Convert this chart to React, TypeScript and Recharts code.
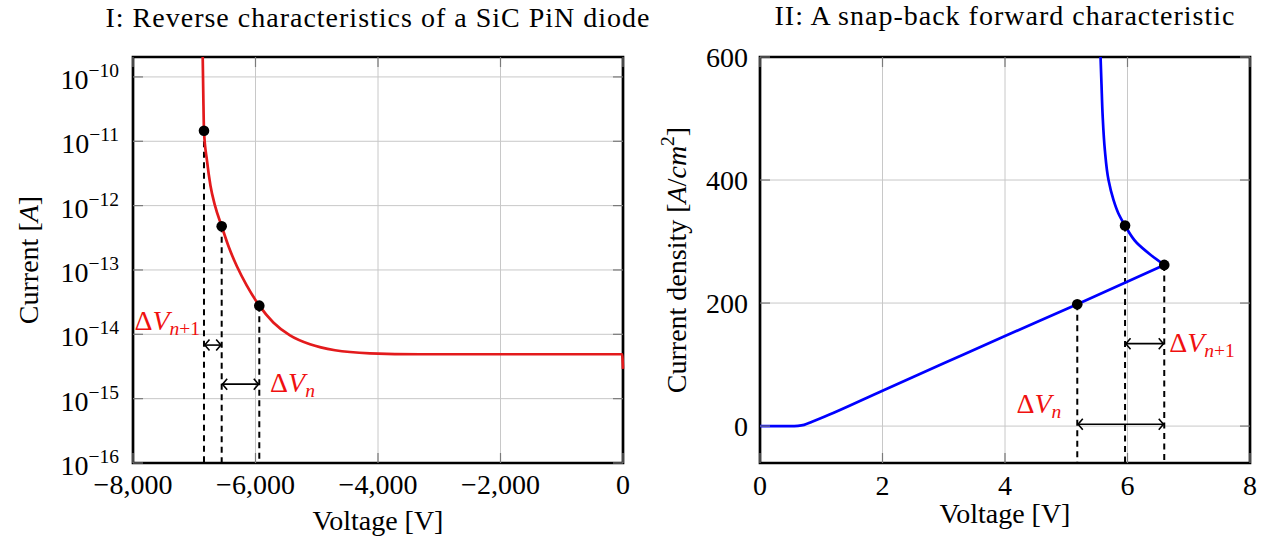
import React from "react"
import {
  ComposedChart,
  Line,
  Scatter,
  XAxis,
  YAxis,
  CartesianGrid,
  ReferenceLine,
  ReferenceArea,
  ReferenceDot,
  Label,
} from "recharts"

const FONT = "'Liberation Serif', 'DejaVu Serif', serif"
const FS = 28
const SUB = 19.5
const RED = "#e31a1c"
const TXT_RED = "#f01010"
const BLUE = "#0000ff"
const GRID = "#c8c8c8"
const TICK = "#7a7a7a"

// ---- I: reverse characteristic (log current) ----
const revV = [-6862, -6852, -6841, -6792, -6735, -6661, -6552, -6433, -6302, -6144, -5938, -5709, -5437, -5110, -4702, -4131, -3314, -15, 0]
const revI = [2.04e-10, 5.07e-11, 1.46e-11, 4.99e-12, 2.04e-12, 1.0e-12, 4.78e-13, 2.23e-13, 1.13e-13, 5.75e-14, 2.79e-14, 1.53e-14, 9.64e-15, 7.0e-15, 5.65e-15, 5.07e-15, 4.9e-15, 4.9e-15, 2.9e-15]
const revDotV = [-6841, -6552, -5938]
const revDotI = [1.46e-11, 4.78e-13, 2.79e-14]
const revXTicks = [-8000, -6000, -4000, -2000, 0]
const revYTicks = [1e-16, 1e-15, 1e-14, 1e-13, 1e-12, 1e-11, 1e-10]
const revYDomain = [1e-16, 2.04e-10]
const revMinorTicks: number[] = []
revYTicks.forEach((d) => {
  for (let m = 2; m <= 9; m++) if (d * m < revYDomain[1]) revMinorTicks.push(d * m)
})

// ---- II: snap-back forward characteristic ----
const fwdLowV = [0, 0.5, 0.62, 0.72, 0.85, 1, 2, 3, 4, 5.18, 6.6]
const fwdLowJ = [0, 0, 0.5, 2, 7, 13, 57.5, 102, 146.5, 198, 262]
const fwdUpV = [5.56, 5.575, 5.595, 5.63, 5.69, 5.77, 5.85, 5.96, 6.15, 6.37, 6.6]
const fwdUpJ = [600, 557, 503, 449, 400, 368, 346, 326, 298, 279, 262]
const fwdDotV = [5.18, 5.96, 6.6]
const fwdDotJ = [198, 326, 262]
const fwdXTicks = [0, 2, 4, 6, 8]
const fwdYTicks = [0, 200, 400, 600]
const fwdYDomain = [-60, 600]

const revCurve = revV.map((v, k) => ({ v, i: revI[k] }))
const revDots = revDotV.map((v, k) => ({ v, i: revDotI[k] }))
const fwdLow = fwdLowV.map((v, k) => ({ v, j: fwdLowJ[k] }))
const fwdUp = fwdUpV.map((v, k) => ({ v, j: fwdUpJ[k] }))
const fwdDots = fwdDotV.map((v, k) => ({ v, j: fwdDotJ[k] }))

const L = { left: 133, right: 623, top: 57, bottom: 463 }
const R = { left: 120, right: 610, top: 57, bottom: 463 }

const fmtThousands = (n: number) =>
  n === 0 ? "0" : (n < 0 ? "\u2212" : "") + Math.abs(n).toLocaleString("en-US")

const makeXTick = (box: typeof L, fmt: (n: number) => string, dy: number) => (p: any) => (
  <g>
    <line x1={p.x} x2={p.x} y1={box.bottom} y2={box.bottom - 10} stroke={TICK} strokeWidth={1.2} />
    <line x1={p.x} x2={p.x} y1={box.top} y2={box.top + 10} stroke={TICK} strokeWidth={1.2} />
    <text x={p.x} y={box.bottom + dy} textAnchor="middle" fontFamily={FONT} fontSize={FS} fill="#000">
      {fmt(p.payload.value)}
    </text>
  </g>
)

const logYTick = (p: any) => {
  const e = Math.round(Math.log10(p.payload.value))
  return (
    <g>
      <line x1={L.left} x2={L.left + 10} y1={p.y} y2={p.y} stroke={TICK} strokeWidth={1.2} />
      <line x1={L.right - 10} x2={L.right} y1={p.y} y2={p.y} stroke={TICK} strokeWidth={1.2} />
      <text x={L.left - 14} y={p.y + 12} textAnchor="end" fontFamily={FONT} fontSize={FS} fill="#000">
        10
        <tspan fontSize={SUB} dy={-12}>{"\u2212" + Math.abs(e)}</tspan>
      </text>
    </g>
  )
}

const minorYTick = (p: any) => (
  <g>
    <line x1={L.left} x2={L.left + 7} y1={p.y} y2={p.y} stroke={TICK} strokeWidth={1} />
    <line x1={L.right - 7} x2={L.right} y1={p.y} y2={p.y} stroke={TICK} strokeWidth={1} />
  </g>
)

const linYTick = (p: any) => (
  <g>
    <line x1={R.left} x2={R.left + 10} y1={p.y} y2={p.y} stroke={TICK} strokeWidth={1.2} />
    <line x1={R.right - 10} x2={R.right} y1={p.y} y2={p.y} stroke={TICK} strokeWidth={1.2} />
    <text x={R.left - 12} y={p.y + 9.5} textAnchor="end" fontFamily={FONT} fontSize={FS} fill="#000">
      {p.payload.value}
    </text>
  </g>
)

const arrowShape = (p: any) => {
  const { x1, y1, x2, y2 } = p
  const h = 5.5
  return (
    <g>
      <line x1={x1} y1={y1} x2={x2} y2={y2} stroke="#000" strokeWidth={1.6} />
      <path
        d={`M${x1 + h},${y1 - h} L${x1 + 0.8},${y1} L${x1 + h},${y1 + h} M${x2 - h},${y2 - h} L${x2 - 0.8},${y2} L${x2 - h},${y2 + h}`}
        fill="none"
        stroke="#000"
        strokeWidth={1.6}
      />
    </g>
  )
}

const deltaLabel = (plus: boolean, anchor: "start" | "end") => (p: any) => (
  <text x={p.cx} y={p.cy} textAnchor={anchor} fill={TXT_RED} fontFamily={FONT} fontSize={FS}>
    {"\u0394"}
    <tspan fontStyle="italic">V</tspan>
    <tspan fontSize={SUB} dy={5} fontStyle="italic">n</tspan>
    {plus ? <tspan fontSize={SUB}>+1</tspan> : null}
  </text>
)

const dot = (p: any) => <circle cx={p.cx} cy={p.cy} r={5.3} fill="#000" />

const dash = { stroke: "#000", strokeWidth: 2, strokeDasharray: "6 4.5" }

function ReverseChart() {
  return (
    <ComposedChart width={640} height={543} margin={{ top: 57, right: 17, bottom: 0, left: 0 }}>
      <CartesianGrid stroke={GRID} strokeWidth={1} />
      <XAxis
        type="number"
        dataKey="v"
        domain={[-8000, 0]}
        ticks={revXTicks}
        interval={0}
        height={80}
        axisLine={false}
        tickLine={false}
        tickSize={0}
        tick={makeXTick(L, fmtThousands, 31)}
      >
        <Label
          content={() => (
            <text x={(L.left + L.right) / 2} y={530} textAnchor="middle" fontFamily={FONT} fontSize={FS}>
              Voltage [V]
            </text>
          )}
        />
      </XAxis>
      <YAxis
        type="number"
        scale="log"
        domain={revYDomain}
        allowDataOverflow
        ticks={revYTicks}
        interval={0}
        width={133}
        axisLine={false}
        tickLine={false}
        tickSize={0}
        tick={logYTick}
      >
        <Label
          content={(p: any) => {
            const cx = p.viewBox.x + 38
            const cy = p.viewBox.y + p.viewBox.height / 2
            return (
              <text x={cx} y={cy} transform={`rotate(-90 ${cx} ${cy})`} textAnchor="middle" fontFamily={FONT} fontSize={FS}>
                Current [<tspan fontStyle="italic">A</tspan>]
              </text>
            )
          }}
        />
      </YAxis>
      <YAxis
        yAxisId="minor"
        orientation="right"
        type="number"
        scale="log"
        domain={revYDomain}
        allowDataOverflow
        ticks={revMinorTicks}
        interval={0}
        width={0}
        axisLine={false}
        tickLine={false}
        tickSize={0}
        tick={minorYTick}
      />
      {revDots.map((d) => (
        <ReferenceLine key={d.v} segment={[{ x: d.v, y: d.i }, { x: d.v, y: revYTicks[0] }]} {...dash} />
      ))}
      <ReferenceLine segment={[{ x: revDotV[0], y: 6.8e-15 }, { x: revDotV[1], y: 6.8e-15 }]} shape={arrowShape} />
      <ReferenceLine segment={[{ x: revDotV[1], y: 1.68e-15 }, { x: revDotV[2], y: 1.68e-15 }]} shape={arrowShape} />
      <Line
        data={revCurve}
        dataKey="i"
        type="monotone"
        stroke={RED}
        strokeWidth={2.7}
        dot={false}
        isAnimationActive={false}
      />
      <Scatter data={revDots} dataKey="i" shape={dot} isAnimationActive={false} />
      <ReferenceDot x={-6906} y={1.15e-14} r={1} ifOverflow="visible" shape={deltaLabel(true, "end")} />
      <ReferenceDot x={-5763} y={1.26e-15} r={1} ifOverflow="visible" shape={deltaLabel(false, "start")} />
      <ReferenceArea
        x1={-8000}
        x2={0}
        y1={revYDomain[0]}
        y2={revYDomain[1]}
        ifOverflow="visible"
        fill="none"
        stroke="#000"
        strokeWidth={2.7}
      />
    </ComposedChart>
  )
}

function ForwardChart() {
  return (
    <ComposedChart width={632} height={543} margin={{ top: 57, right: 22, bottom: 0, left: 0 }}>
      <CartesianGrid stroke={GRID} strokeWidth={1} />
      <XAxis
        type="number"
        dataKey="v"
        domain={[0, 8]}
        ticks={fwdXTicks}
        interval={0}
        height={80}
        axisLine={false}
        tickLine={false}
        tickSize={0}
        tick={makeXTick(R, (n) => String(n), 32)}
      >
        <Label
          content={() => (
            <text x={(R.left + R.right) / 2} y={523} textAnchor="middle" fontFamily={FONT} fontSize={FS}>
              Voltage [V]
            </text>
          )}
        />
      </XAxis>
      <YAxis
        type="number"
        domain={fwdYDomain}
        allowDataOverflow
        ticks={fwdYTicks}
        interval={0}
        width={120}
        axisLine={false}
        tickLine={false}
        tickSize={0}
        tick={linYTick}
      >
        <Label
          content={(p: any) => {
            const cx = p.viewBox.x + 46
            const cy = p.viewBox.y + p.viewBox.height / 2
            return (
              <text x={cx} y={cy} transform={`rotate(-90 ${cx} ${cy})`} textAnchor="middle" fontFamily={FONT} fontSize={FS}>
                Current density [<tspan fontStyle="italic">A</tspan>/<tspan fontStyle="italic">cm</tspan>
                <tspan fontSize={SUB} dy={-12}>2</tspan>
                <tspan dy={12}>]</tspan>
              </text>
            )
          }}
        />
      </YAxis>
      {fwdDots.map((d) => (
        <ReferenceLine key={d.v} segment={[{ x: d.v, y: d.j }, { x: d.v, y: fwdYDomain[0] }]} {...dash} />
      ))}
      <ReferenceLine segment={[{ x: fwdDotV[1], y: 134 }, { x: fwdDotV[2], y: 134 }]} shape={arrowShape} />
      <ReferenceLine segment={[{ x: fwdDotV[0], y: 3 }, { x: fwdDotV[2], y: 3 }]} shape={arrowShape} />
      <Line data={fwdLow} dataKey="j" type="monotone" stroke={BLUE} strokeWidth={2.7} dot={false} isAnimationActive={false} />
      <Line data={fwdUp} dataKey="j" type="monotoneY" stroke={BLUE} strokeWidth={2.7} dot={false} isAnimationActive={false} />
      <Scatter data={fwdDots} dataKey="j" shape={dot} isAnimationActive={false} />
      <ReferenceDot x={6.68} y={121} r={1} ifOverflow="visible" shape={deltaLabel(true, "start")} />
      <ReferenceDot x={4.92} y={21} r={1} ifOverflow="visible" shape={deltaLabel(false, "end")} />
      <ReferenceArea
        x1={0}
        x2={8}
        y1={fwdYDomain[0]}
        y2={fwdYDomain[1]}
        ifOverflow="visible"
        fill="none"
        stroke="#000"
        strokeWidth={2.7}
      />
    </ComposedChart>
  )
}

export default function App() {
  return (
    <div style={{ position: "fixed", left: 0, top: 0, width: 1272, height: 543, background: "#fff" }}>
      <div style={{ position: "absolute", left: 0, top: 0 }}>
        <ReverseChart />
      </div>
      <div style={{ position: "absolute", left: 640, top: 0 }}>
        <ForwardChart />
      </div>
      <svg width={1272} height={543} style={{ position: "absolute", left: 0, top: 0, pointerEvents: "none" }}>
        <text x={378} y={27} textAnchor="middle" fontFamily={FONT} fontSize={FS} letterSpacing={1}>
          I: Reverse characteristics of a SiC PiN diode
        </text>
        <text x={1005} y={25} textAnchor="middle" fontFamily={FONT} fontSize={FS} letterSpacing={1}>
          II: A snap-back forward characteristic
        </text>
      </svg>
    </div>
  )
}
